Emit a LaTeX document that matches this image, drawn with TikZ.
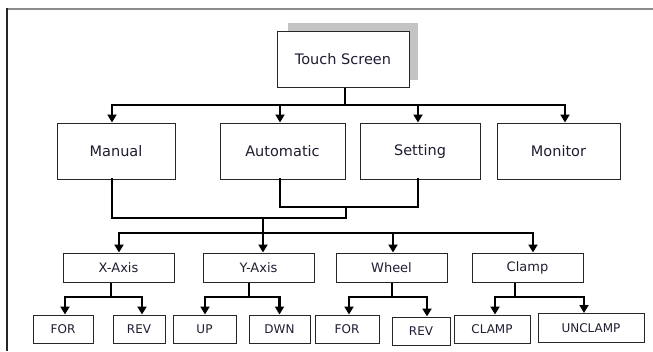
\documentclass[tikz,border=0pt]{standalone}
\usepackage{fontspec}
\setmainfont{DejaVu Sans}
\usetikzlibrary{arrows.meta}
\definecolor{txt}{RGB}{30,30,50}
\definecolor{shadowgray}{RGB}{196,196,196}
\definecolor{pagerule}{RGB}{140,140,140}
\begin{document}
\begin{tikzpicture}[x=1pt,y=-1pt,
  box/.style={draw=black!85,line width=1pt,fill=white,inner sep=0pt,
    text=txt,font=\fontsize{13}{15}\selectfont},
  bigbox/.style={box,font=\fontsize{14.5}{16}\selectfont},
  smallbox/.style={box,font=\fontsize{12}{14}\selectfont},
  bus/.style={line width=2.6pt,line cap=rect},
  stem/.style={line width=1.6pt},
  drop/.style={line width=2.6pt,-{Triangle[width=9pt,length=8pt]}}]
\useasboundingbox (0,0) rectangle (653,351);
\fill[white] (0,0) rectangle (653,351);
% page border
\draw[pagerule,line width=2pt] (7,8.5) -- (653,8.5);
\draw[black!85,line width=1.6pt] (7,8) -- (7,351);

% root with its shadow
\fill[shadowgray] (288,23) rectangle (418,80);
\node[bigbox,minimum width=132pt,minimum height=56pt] (ts) at (343,59) {Touch Screen};

% second level
\node[bigbox,minimum width=118pt,minimum height=56pt] (man) at (116,151) {Manual};
\node[bigbox,minimum width=125pt,minimum height=56pt] (aut) at (282.5,151) {Automatic};
\node[bigbox,minimum width=120pt,minimum height=56pt] (set) at (420,151) {Setting};
\node[bigbox,minimum width=123pt,minimum height=56pt] (mon) at (558.5,151) {Monitor};

% third level
\node[box,minimum width=111pt,minimum height=29pt] (xax) at (118.5,267.5) {X-Axis};
\node[box,minimum width=111pt,minimum height=29pt] (yax) at (258.5,267.5) {Y-Axis};
\node[box,minimum width=111pt,minimum height=29pt] (whl) at (391.5,267.5) {Wheel};
\node[box,minimum width=111pt,minimum height=29pt] (clp) at (527.5,267.5) {Clamp};

% fourth level
\node[smallbox,minimum width=60pt,minimum height=28pt] (xf) at (63,329) {FOR};
\node[smallbox,minimum width=52pt,minimum height=28pt] (xr) at (139,329) {REV};
\node[smallbox,minimum width=63pt,minimum height=28pt] (yu) at (204.5,329) {UP};
\node[smallbox,minimum width=61pt,minimum height=28pt] (yd) at (279.5,329) {DWN};
\node[smallbox,minimum width=64pt,minimum height=28pt] (wf) at (347,329) {FOR};
\node[smallbox,minimum width=58pt,minimum height=28pt] (wr) at (421,331) {REV};
\node[smallbox,minimum width=76pt,minimum height=28pt] (cc) at (492,329) {CLAMP};
\node[smallbox,minimum width=106pt,minimum height=29pt] (cu) at (591,328) {UNCLAMP};

% junction points
\coordinate (t0) at (345,105);
\coordinate (t1) at (112,105);
\coordinate (t2) at (280,105);
\coordinate (t3) at (418,105);
\coordinate (t4) at (565,105);
\coordinate (m0) at (112,218);
\coordinate (a0) at (280,207);
\coordinate (s0) at (418,207);
\coordinate (j0) at (346,207);
\coordinate (j1) at (346,218);
\coordinate (k0) at (263,218);
\coordinate (b0) at (263,233);
\coordinate (b1) at (119,233);
\coordinate (b3) at (393,233);
\coordinate (b4) at (533,233);
\coordinate (xs) at (111,297);
\coordinate (xl) at (65,297);
\coordinate (xrr) at (142,297);
\coordinate (ys) at (249,297);
\coordinate (yl) at (205,297);
\coordinate (yr) at (279.5,297);
\coordinate (ws) at (392,297);
\coordinate (wl) at (349,297);
\coordinate (wrr) at (427,297);
\coordinate (cs) at (515,297);
\coordinate (cl) at (495,297);
\coordinate (cr) at (584,297);

% root to second level
\draw[stem] (ts.south -| t0) -- (t0);
\draw[bus] (t1) -- (t4);
\draw[drop] (t1) -- (t1 |- man.north);
\draw[drop] (t2) -- (t2 |- aut.north);
\draw[drop] (t3) -- (t3 |- set.north);
\draw[drop] (t4) -- (t4 |- mon.north);

% second level merges into third level
\draw[bus] (aut.south -| a0) -- (a0) -- (s0) -- (set.south -| s0);
\draw[bus] (j0) -- (j1);
\draw[bus] (man.south -| m0) -- (m0) -- (j1);
\draw[bus] (k0) -- (b0);
\draw[bus] (b1) -- (b4);
\draw[drop] (b1) -- (b1 |- xax.north);
\draw[drop] (b0) -- (b0 |- yax.north);
\draw[drop] (b3) -- (b3 |- whl.north);
\draw[drop] (b4) -- (b4 |- clp.north);

% third level to fourth level
\draw[stem] (xax.south -| xs) -- (xs);
\draw[bus] (xl) -- (xrr);
\draw[drop] (xl) -- (xl |- xf.north);
\draw[drop] (xrr) -- (xrr |- xr.north);

\draw[stem] (yax.south -| ys) -- (ys);
\draw[bus] (yl) -- (yr);
\draw[drop] (yl) -- (yl |- yu.north);
\draw[drop] (yr) -- (yr |- yd.north);

\draw[stem] (whl.south -| ws) -- (ws);
\draw[bus] (wl) -- (wrr);
\draw[drop] (wl) -- (wl |- wf.north);
\draw[drop] (wrr) -- (wrr |- wr.north);

\draw[stem] (clp.south -| cs) -- (cs);
\draw[bus] (cl) -- (cr);
\draw[drop] (cl) -- (cl |- cc.north);
\draw[drop] (cr) -- (cr |- cu.north);
\end{tikzpicture}
\end{document}
